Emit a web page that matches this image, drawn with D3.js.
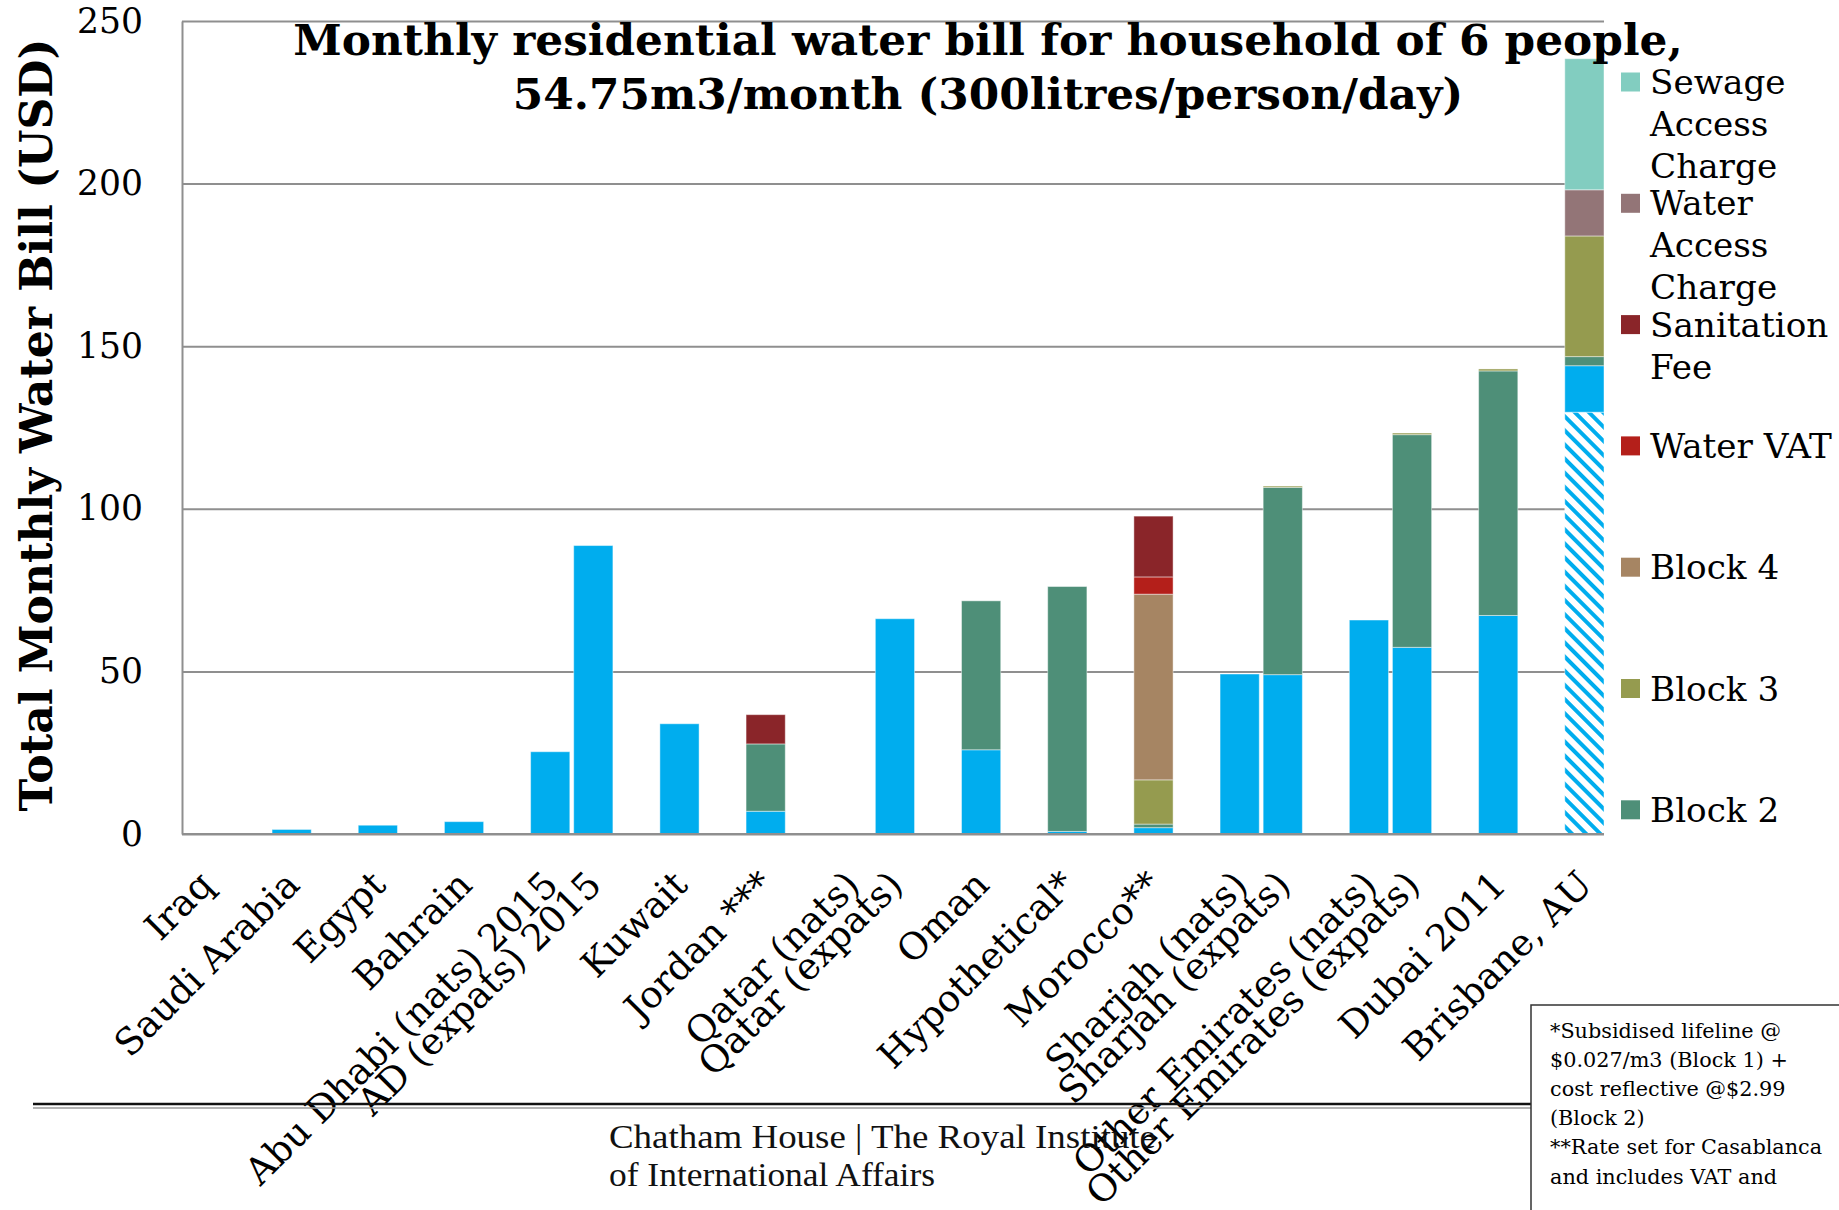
<!DOCTYPE html>
<html>
<head>
<meta charset="utf-8">
<script src="https://cdn.jsdelivr.net/npm/d3@7"></script>
<style>
  body { margin: 0; background: #fff; }
  svg { display: block; }
</style>
</head>
<body>
<script>
// ---- data -------------------------------------------------------------
const categories = [
  "Iraq", "Saudi Arabia", "Egypt", "Bahrain",
  "Abu Dhabi (nats) 2015", "AD (expats) 2015",
  "Kuwait", "Jordan ***",
  "Qatar (nats)", "Qatar (expats)",
  "Oman", "Hypothetical*", "Morocco**",
  "Sharjah (nats)", "Sharjah (expats)",
  "Other Emirates (nats)", "Other Emirates (expats)",
  "Dubai 2011", "Brisbane, AU"
];
// number of side-by-side bars in each cluster, in category order
const clusterSizes = [1, 1, 1, 1, 2, 1, 1, 2, 1, 1, 1, 2, 2, 1, 1];

// monthly bill components, USD
const hatchedBase   = [0, 0, 0, 0, 0, 0, 0, 0, 0, 0, 0, 0, 0, 0, 0, 0, 0, 0, 129.7];
const block1        = [0.2, 1.4, 2.7, 3.8, 25.3, 88.7, 33.9, 7.0, 0, 66.2, 25.9, 0.8, 1.95, 49.2, 49.0, 65.8, 57.4, 67.2, 14.3];
const block2        = [0, 0, 0, 0, 0, 0, 0, 20.7, 0, 0, 45.8, 75.3, 1.1, 0, 57.6, 0, 65.4, 75.2, 2.8];
const block3        = [0, 0, 0, 0, 0, 0, 0, 0, 0, 0, 0, 0, 13.6, 0, 0.4, 0, 0.5, 0.6, 37.1];
const block4        = [0, 0, 0, 0, 0, 0, 0, 0, 0, 0, 0, 0, 57.1, 0, 0, 0, 0, 0, 0];
const waterVAT      = [0, 0, 0, 0, 0, 0, 0, 0, 0, 0, 0, 0, 5.3, 0, 0, 0, 0, 0, 0];
const sanitationFee = [0, 0, 0, 0, 0, 0, 0, 9.0, 0, 0, 0, 0, 18.7, 0, 0, 0, 0, 0, 0];
const waterAccess   = [0, 0, 0, 0, 0, 0, 0, 0, 0, 0, 0, 0, 0, 0, 0, 0, 0, 0, 14.2];
const sewageAccess  = [0, 0, 0, 0, 0, 0, 0, 0, 0, 0, 0, 0, 0, 0, 0, 0, 0, 0, 40.3];

const seriesKeys  = ["hatched", "b1", "b2", "b3", "b4", "vat", "san", "wac", "sac"];
const seriesNames = ["Block 1 (hatched)", "Block 1", "Block 2", "Block 3", "Block 4",
                     "Water VAT", "Sanitation Fee", "Water Access Charge", "Sewage Access Charge"];
const seriesValues = [hatchedBase, block1, block2, block3, block4, waterVAT, sanitationFee, waterAccess, sewageAccess];
const seriesColors = ["url(#hatch)", "#00adee", "#4e8f78", "#959b4f", "#a68563",
                      "#b41f1a", "#8a2529", "#937577", "#82cdc0"];

const yTicks = [0, 50, 100, 150, 200, 250];
const titleLines = [
  "Monthly residential water bill for household of 6 people,",
  "54.75m3/month (300litres/person/day)"
];
const yTitle = "Total Monthly Water Bill (USD)";
const footerLines = ["Chatham House  |  The Royal Institute", "of International Affairs"];
const footnoteLines = [
  "*Subsidised lifeline @",
  "$0.027/m3  (Block 1) +",
  "cost reflective @$2.99",
  "(Block 2)",
  "**Rate set for Casablanca",
  "and includes VAT and"
];

// ---- layout -----------------------------------------------------------
const W = 1839, H = 1210;
const plot = { left: 182, right: 1604, top: 21, bottom: 834 };
const SERIF = "'DejaVu Serif', 'Liberation Serif', serif";

const svg = d3.select("body").append("svg")
  .attr("width", W).attr("height", H)
  .attr("viewBox", `0 0 ${W} ${H}`);

// font size that makes `text` span `width` pixels
function fitSize(text, width, family, weight) {
  const t = svg.append("text")
    .attr("font-family", family).attr("font-weight", weight || "normal")
    .attr("font-size", 100).text(text);
  const w = t.node().getComputedTextLength();
  t.remove();
  return 100 * width / w;
}

// diagonal hatching for the base segment
const defs = svg.append("defs");
const pat = defs.append("pattern")
  .attr("id", "hatch").attr("patternUnits", "userSpaceOnUse")
  .attr("width", 10).attr("height", 10)
  .attr("patternTransform", "rotate(-45)");
pat.append("rect").attr("width", 10).attr("height", 10).attr("fill", "#fff");
pat.append("rect").attr("x", 0).attr("width", 4).attr("height", 10).attr("fill", "#00adee");

// slot index for each bar: clusters separated by one empty slot
const slotOf = [];
let slot = 0;
clusterSizes.forEach(n => { for (let k = 0; k < n; k++) slotOf.push(slot++); slot++; });
const nSlots = slot - 1;

const x = d3.scaleBand()
  .domain(d3.range(nSlots))
  .range([plot.left, plot.right])
  .paddingInner(0.09).paddingOuter(0.045).align(1);

const y = d3.scaleLinear().domain([0, 250]).range([plot.bottom, plot.top]);

// ---- grid & y axis ----------------------------------------------------
const tickFont = fitSize("100", 66, SERIF);
const yAxis = svg.append("g")
  .attr("transform", `translate(${plot.left},0)`)
  .call(d3.axisLeft(y).tickValues(yTicks)
        .tickSize(-(plot.right - plot.left)).tickSizeOuter(0).tickPadding(39));
yAxis.select(".domain").attr("stroke", "#8f8f8f").attr("stroke-width", 2);
yAxis.selectAll(".tick line").attr("stroke", "#8f8f8f").attr("stroke-width", 2);
yAxis.selectAll(".tick text")
  .attr("font-family", SERIF).attr("font-size", tickFont).attr("fill", "#000");

// ---- bars -------------------------------------------------------------
const rows = categories.map((c, i) => {
  const r = { category: c, index: i };
  seriesKeys.forEach((k, s) => { r[k] = seriesValues[s][i]; });
  return r;
});
const stacked = d3.stack().keys(seriesKeys)(rows);

svg.append("g").selectAll("g")
  .data(stacked)
  .join("g")
    .attr("fill", (d, i) => seriesColors[i])
  .selectAll("rect")
  .data(d => d.filter(p => p[1] - p[0] > 0))
  .join("rect")
    .attr("x", p => x(slotOf[p.data.index]))
    .attr("width", x.bandwidth())
    .attr("y", p => y(p[1]))
    .attr("height", p => y(p[0]) - y(p[1]))
    .attr("stroke", "rgba(255,255,255,0.45)")
    .attr("stroke-width", 1);

// baseline
svg.append("line")
  .attr("x1", plot.left).attr("x2", plot.right)
  .attr("y1", y(0)).attr("y2", y(0))
  .attr("stroke", "#8f8f8f").attr("stroke-width", 2);

// ---- category labels --------------------------------------------------
const catFont = fitSize("Brisbane, AU", 249, SERIF);
svg.append("g").selectAll("text")
  .data(categories)
  .join("text")
    .attr("transform", (c, i) =>
      `translate(${x(slotOf[i]) + x.bandwidth() / 2 + 10},887) rotate(-45)`)
    .attr("text-anchor", "end")
    .attr("font-family", SERIF).attr("font-size", catFont)
    .attr("fill", "#000")
    .text(c => c);

// ---- y title ----------------------------------------------------------
const yTitleFont = fitSize(yTitle, 773, SERIF, "bold");
svg.append("text")
  .attr("transform", `translate(52,425) rotate(-90)`)
  .attr("text-anchor", "middle")
  .attr("font-family", SERIF).attr("font-weight", "bold")
  .attr("font-size", yTitleFont).attr("fill", "#000")
  .text(yTitle);

// ---- title ------------------------------------------------------------
const titleFont = fitSize(titleLines[0], 1390, SERIF, "bold");
svg.append("g").selectAll("text")
  .data(titleLines)
  .join("text")
    .attr("x", 988).attr("y", (d, i) => 55 + i * 54)
    .attr("text-anchor", "middle")
    .attr("font-family", SERIF).attr("font-weight", "bold")
    .attr("font-size", titleFont).attr("fill", "#000")
    .text(d => d);

// ---- legend (top-down, clipped to its box) ----------------------------
const legendFont = fitSize("Water VAT", 182, SERIF);
defs.append("clipPath").attr("id", "legendClip")
  .append("rect").attr("x", 1610).attr("y", 40).attr("width", 229).attr("height", 820);
const legend = svg.append("g").attr("clip-path", "url(#legendClip)");
const legendOrder = d3.range(seriesKeys.length).reverse();
legendOrder.forEach((s, j) => {
  const cy = 82 + j * 121.3;
  const name = seriesNames[s];
  const lines = name.length > 10 ? name.split(" ") : [name];
  legend.append("rect")
    .attr("x", 1621).attr("y", cy - 9.5).attr("width", 19).attr("height", 19)
    .attr("fill", seriesColors[s]);
  legend.append("g").selectAll("text")
    .data(lines)
    .join("text")
      .attr("x", 1650).attr("y", (d, k) => cy + 12 + k * 42)
      .attr("font-family", SERIF).attr("font-size", legendFont).attr("fill", "#000")
      .text(d => d);
});

// ---- footer -----------------------------------------------------------
svg.append("line")
  .attr("x1", 33).attr("x2", 1531).attr("y1", 1104).attr("y2", 1104)
  .attr("stroke", "#111").attr("stroke-width", 2.5);
svg.append("line")
  .attr("x1", 33).attr("x2", 1531).attr("y1", 1108).attr("y2", 1108)
  .attr("stroke", "#9a9a9a").attr("stroke-width", 1.5);

const footerWidths = [547, 326];
svg.append("g").selectAll("text")
  .data(footerLines)
  .join("text")
    .attr("x", 609).attr("y", (d, i) => 1148 + i * 37.5)
    .attr("font-family", "'Liberation Serif', serif").attr("font-size", 34)
    .attr("textLength", (d, i) => footerWidths[i])
    .attr("lengthAdjust", "spacingAndGlyphs")
    .attr("fill", "#111")
    .text(d => d);

// footnote box
svg.append("rect")
  .attr("x", 1531).attr("y", 1005).attr("width", 340).attr("height", 240)
  .attr("fill", "#fff").attr("stroke", "#333").attr("stroke-width", 1.5);
const noteFont = fitSize(footnoteLines[0], 231, SERIF);
svg.append("g").selectAll("text")
  .data(footnoteLines)
  .join("text")
    .attr("x", 1550).attr("y", (d, i) => 1038 + i * 29.1)
    .attr("font-family", SERIF).attr("font-size", noteFont).attr("fill", "#000")
    .text(d => d);
</script>
</body>
</html>
